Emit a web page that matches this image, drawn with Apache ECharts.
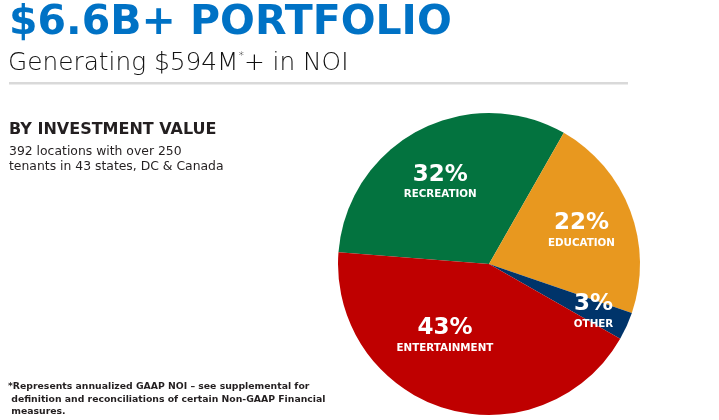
<!DOCTYPE html>
<html>
<head>
<meta charset="utf-8">
<script src="https://cdn.jsdelivr.net/npm/echarts@6/dist/echarts.min.js"></script>
<style>
html,body{margin:0;padding:0;background:#fff;}
#chart{width:719px;height:420px;}
</style>
</head>
<body>
<div id="chart"></div>
<script>
const categories = ['Recreation', 'Education', 'Other', 'Entertainment'];
const shares = [32, 22, 3, 43];
const sliceColors = ['#03733F', '#E8981F', '#00346A', '#BF0000'];

const titleText = '$6.6B+ PORTFOLIO';
const subtitleMain = 'Generating $594M';
const subtitleTail = '+ in NOI';
const sectionHeading = 'BY INVESTMENT VALUE';
const descLines = ['392 locations with over 250', 'tenants in 43 states, DC & Canada'];
const footnoteLines = [
  '*Represents annualized GAAP NOI \u2013 see supplemental for',
  ' definition and reconciliations of certain Non-GAAP Financial',
  ' measures.'
];

const labelNudge = {
  Recreation: [-12, -12],
  Education: [19, -5],
  Other: [33, 16],
  Entertainment: [-21, -3]
};

const chart = echarts.init(document.getElementById('chart'), null, {renderer: 'canvas'});

const pieData = categories.map((c, i) => ({
  name: c,
  value: shares[i],
  itemStyle: {color: sliceColors[i]},
  label: {offset: labelNudge[c]}
}));

const baseFont = '"DejaVu Sans"';
const ink = '#231F20';

function lineTexts(lines, x, y0, lh, font) {
  return lines.map((t, i) => ({
    type: 'text', x: x, y: y0 + i * lh,
    style: {text: t, font: font, fill: ink, textVerticalAlign: 'middle'}
  }));
}

const graphics = [
  {type: 'text', x: 9, y: 23.5, style: {text: titleText, font: 'bold 41px ' + baseFont, fill: '#0072C5', textVerticalAlign: 'middle'}},
  {type: 'text', x: 8, y: 64, style: {
    text: '{m|' + subtitleMain + '}{s|*}{m|' + subtitleTail + '}',
    textVerticalAlign: 'middle',
    rich: {
      m: {font: '200 24.8px ' + baseFont, fill: '#111111', lineHeight: 26},
      s: {font: '200 11px ' + baseFont, fill: '#111111', verticalAlign: 'top'}
    }
  }},
  {type: 'rect', shape: {x: 9, y: 82, width: 619, height: 2.5}, style: {fill: '#D9D9D9'}},
  {type: 'text', x: 9, y: 129.5, style: {text: sectionHeading, font: 'bold 16px ' + baseFont, fill: ink, textVerticalAlign: 'middle'}}
].concat(
  lineTexts(descLines, 9, 151.5, 15, '12.4px ' + baseFont),
  lineTexts(footnoteLines, 8, 387, 12.5, 'bold 9.3px ' + baseFont)
);

chart.setOption({
  animation: false,
  backgroundColor: '#ffffff',
  graphic: graphics,
  series: [{
    type: 'pie',
    center: [489, 264],
    radius: [0, 151],
    startAngle: 175.5,
    clockwise: true,
    silent: true,
    itemStyle: {borderWidth: 0},
    labelLine: {show: false},
    label: {
      show: true,
      position: 'inside',
      formatter: p => '{p|' + p.value + '%}\n{n|' + p.name.toUpperCase() + '}',
      rich: {
        p: {fontFamily: 'DejaVu Sans', fontWeight: 'bold', fontSize: 23, color: '#ffffff', lineHeight: 24, align: 'center'},
        n: {fontFamily: 'DejaVu Sans', fontWeight: 'bold', fontSize: 10.3, color: '#ffffff', lineHeight: 16, align: 'center'}
      }
    },
    data: pieData
  }]
});
</script>
</body>
</html>
